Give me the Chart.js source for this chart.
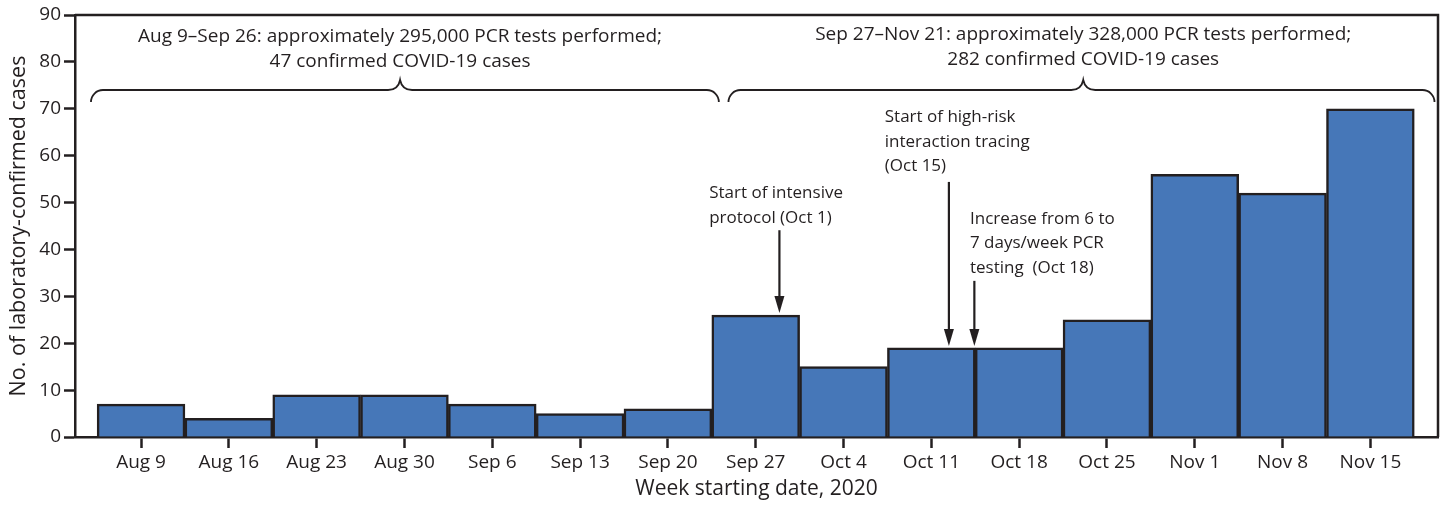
<!DOCTYPE html>
<html>
<head>
<meta charset="utf-8">
<script src="https://cdn.jsdelivr.net/npm/chart.js@4.4.1/dist/chart.umd.min.js"></script>
<style>
  html, body { margin: 0; padding: 0; background: #fff; }
  #wrap { width: 1445px; height: 506px; }
</style>
</head>
<body>
<div id="wrap"><canvas id="weekly_cases"></canvas></div>
<script>
// weekly counts
const weeks = ['Aug 9', 'Aug 16', 'Aug 23', 'Aug 30', 'Sep 6', 'Sep 13', 'Sep 20',
               'Sep 27', 'Oct 4', 'Oct 11', 'Oct 18', 'Oct 25', 'Nov 1', 'Nov 8', 'Nov 15'];
const cases = [7, 4, 9, 9, 7, 5, 6, 26, 15, 19, 19, 25, 56, 52, 70];
const yTicks = [0, 10, 20, 30, 40, 50, 60, 70, 80, 90];

const ink = '#231f20';
const fontFam = '"Open Sans", "Noto Sans", sans-serif';

// text notes + arrows, placed in data units (x = week index, y = cases)
const notes = [
    { x: 6.47, y: 52.0, lines: ['Start of intensive', 'protocol (Oct 1)'] },
    { x: 8.47, y: 68.2, lines: ['Start of high-risk', 'interaction tracing', '(Oct 15)'] },
    { x: 9.44, y: 46.5, lines: ['Increase from 6 to', '7 days/week PCR', 'testing  (Oct 18)'] }
];
const arrows = [
    { x: 7.27, from: 44.1, week: 7 },
    { x: 9.20, from: 54.4, week: 9 },
    { x: 9.49, from: 33.3, week: 10 }
];
const braces = [
    { x0: -0.57, x1: 6.58, y: 74, lines: ['Aug 9\u2013Sep 26: approximately 295,000 PCR tests performed;', '47 confirmed COVID-19 cases'], cx: 2.95, ty: 85.3 },
    { x0: 6.69, x1: 14.73, y: 74, lines: ['Sep 27\u2013Nov 21: approximately 328,000 PCR tests performed;', '282 confirmed COVID-19 cases'], cx: 10.73, ty: 85.9 }
];

const extras = {
    id: 'extras',
    afterDraw(chart) {
        const ctx = chart.ctx;
        const xs = chart.scales.x, ys = chart.scales.y;
        const a = chart.chartArea;
        ctx.save();
        ctx.strokeStyle = ink;
        ctx.fillStyle = ink;

        // frame: top + right
        ctx.lineWidth = 2.5;
        ctx.beginPath();
        ctx.moveTo(a.left, a.top);
        ctx.lineTo(a.right, a.top);
        ctx.lineTo(a.right, a.bottom);
        ctx.stroke();

        // braces
        ctx.lineWidth = 1.8;
        const r = 12;
        braces.forEach(b => {
            const x0 = xs.getPixelForValue(b.x0), x1 = xs.getPixelForValue(b.x1);
            const yb = ys.getPixelForValue(b.y);
            const xc = xs.getPixelForValue(b.cx);
            ctx.beginPath();
            ctx.moveTo(x0, yb + r);
            ctx.arcTo(x0, yb, x0 + r, yb, r);
            ctx.lineTo(xc - r, yb);
            ctx.quadraticCurveTo(xc - 2, yb, xc, yb - 10);
            ctx.quadraticCurveTo(xc + 2, yb, xc + r, yb);
            ctx.lineTo(x1 - r, yb);
            ctx.arcTo(x1, yb, x1, yb + r, r);
            ctx.stroke();

            ctx.font = '19px ' + fontFam;
            ctx.textAlign = 'center';
            ctx.textBaseline = 'middle';
            b.lines.forEach((t, i) => {
                ctx.fillText(t, xc, ys.getPixelForValue(b.ty) + i * 25);
            });
        });

        // notes
        ctx.font = '17px ' + fontFam;
        ctx.textAlign = 'left';
        ctx.textBaseline = 'middle';
        notes.forEach(n => {
            const px = xs.getPixelForValue(n.x);
            const py = ys.getPixelForValue(n.y);
            n.lines.forEach((t, i) => ctx.fillText(t, px, py + i * 24.5));
        });

        // arrows pointing down to bar tops
        ctx.lineWidth = 2.2;
        arrows.forEach(ar => {
            const px = xs.getPixelForValue(ar.x);
            const top = ys.getPixelForValue(ar.from);
            const tip = ys.getPixelForValue(cases[ar.week]) - 2;
            ctx.beginPath();
            ctx.moveTo(px, top);
            ctx.lineTo(px, tip - 12);
            ctx.stroke();
            ctx.beginPath();
            ctx.moveTo(px, tip);
            ctx.lineTo(px - 5, tip - 17);
            ctx.lineTo(px + 5, tip - 17);
            ctx.closePath();
            ctx.fill();
        });
        ctx.restore();
    }
};

new Chart(document.getElementById('weekly_cases').getContext('2d'), {
    type: 'bar',
    data: {
        datasets: [{
            data: cases.map((v, i) => ({ x: i, y: v })),
            backgroundColor: '#4677b8',
            borderColor: ink,
            borderWidth: 2.5,
            barPercentage: 1,
            categoryPercentage: 1
        }]
    },
    options: {
        responsive: true,
        maintainAspectRatio: false,
        animation: false,
        layout: { padding: { left: 0, right: 7, top: 15, bottom: 0 } },
        plugins: { legend: { display: false }, tooltip: { enabled: false } },
        scales: {
            x: {
                type: 'linear',
                offset: false,
                min: -0.752,
                max: 14.77,
                afterBuildTicks: s => { s.ticks = weeks.map((_, i) => ({ value: i })); },
                afterFit: s => { s.height = 69; },
                ticks: {
                    callback: v => weeks[v],
                    color: ink,
                    font: { family: fontFam, size: 19 },
                    padding: 3,
                    maxRotation: 0,
                    autoSkip: false
                },
                grid: { offset: false, drawOnChartArea: false, tickLength: 11, tickWidth: 2.5, color: ink },
                border: { color: ink, width: 2.5 },
                title: {
                    display: true,
                    text: 'Week starting date, 2020',
                    color: ink,
                    font: { family: fontFam, size: 21 },
                    padding: { top: 2 }
                }
            },
            y: {
                min: 0,
                max: 90,
                afterBuildTicks: s => { s.ticks = yTicks.map(v => ({ value: v })); },
                afterFit: s => { s.width = 75; },
                ticks: {
                    color: ink,
                    font: { family: fontFam, size: 19 },
                    padding: 3
                },
                grid: { drawOnChartArea: false, tickLength: 11, tickWidth: 2.5, color: ink },
                border: { color: ink, width: 2.5 },
                title: {
                    display: true,
                    text: 'No. of laboratory-confirmed cases',
                    color: ink,
                    font: { family: fontFam, size: 21.5 },
                    padding: { top: 6, bottom: 0 }
                }
            }
        }
    },
    plugins: [extras]
});
</script>
</body>
</html>
